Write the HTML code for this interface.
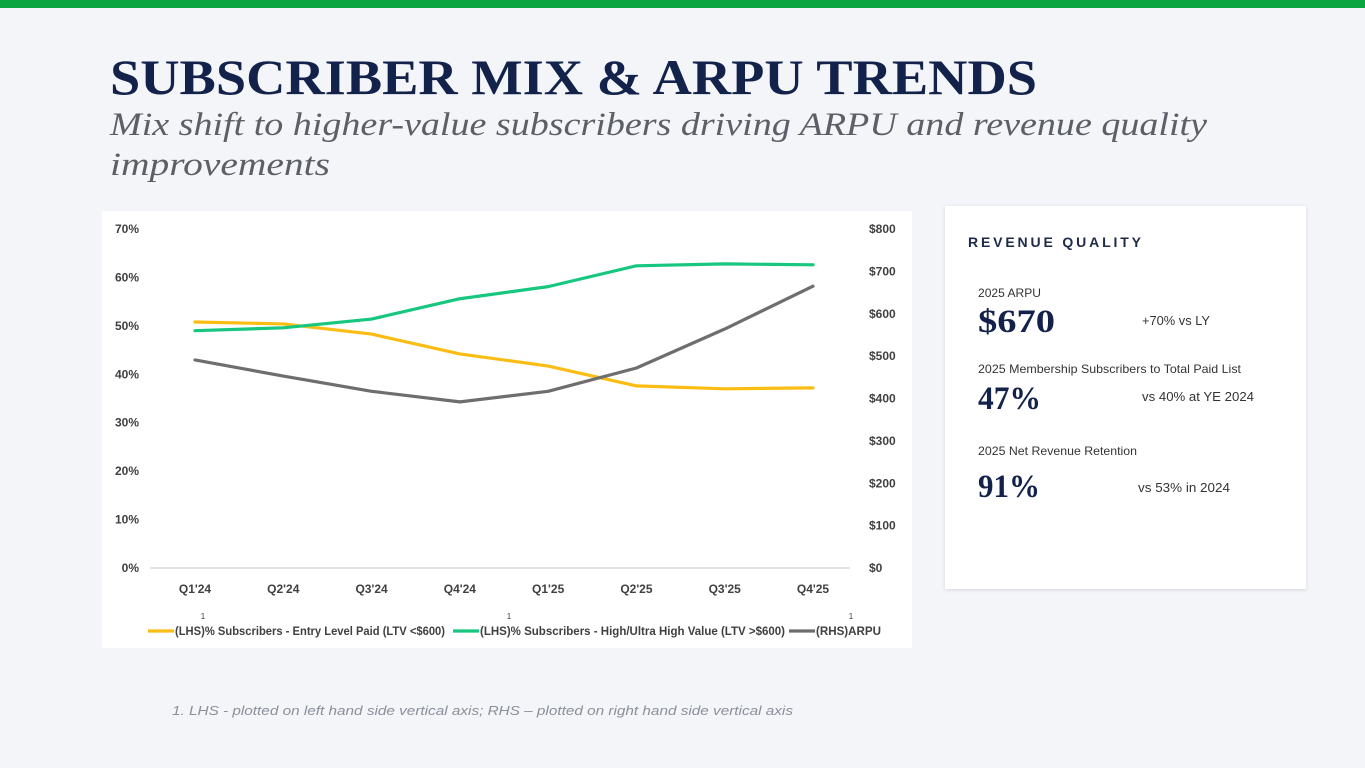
<!DOCTYPE html>
<html><head><meta charset="utf-8"><style>
html,body{margin:0;padding:0;background:#f3f5f9;}
svg{display:block;}
text{font-family:"Liberation Sans",sans-serif;}
.serif{font-family:"Liberation Serif",serif;}
</style></head><body>
<svg id="page" width="1365" height="768" viewBox="0 0 1365 768">
<rect x="0" y="0" width="1365" height="768" fill="#f3f5f9"/>
<rect x="0" y="0" width="1365" height="8" fill="#0aa540"/>
<text class="serif" x="110" y="94" font-size="50" font-weight="bold" fill="#13224a" textLength="927" lengthAdjust="spacingAndGlyphs">SUBSCRIBER MIX &amp; ARPU TRENDS</text>
<text class="serif" x="110" y="135" font-size="33" font-style="italic" fill="#5c5f66" textLength="1097" lengthAdjust="spacingAndGlyphs">Mix shift to higher-value subscribers driving ARPU and revenue quality</text>
<text class="serif" x="110" y="175" font-size="33" font-style="italic" fill="#5c5f66" textLength="220" lengthAdjust="spacingAndGlyphs">improvements</text>

<rect x="102" y="211" width="810" height="437" fill="#ffffff"/>
<g id="chart"></g>

<rect x="945" y="206" width="361" height="383" fill="#ffffff" style="filter:drop-shadow(0 1px 2px rgba(0,0,0,0.12))"/>
<text x="968" y="247" font-size="14" font-weight="bold" fill="#1d2a4a" textLength="173" lengthAdjust="spacing">REVENUE QUALITY</text>
<text x="978" y="297" font-size="12" fill="#333" textLength="63" lengthAdjust="spacingAndGlyphs">2025 ARPU</text>
<text class="serif" x="978" y="332" font-size="33" font-weight="bold" fill="#13224a" textLength="77" lengthAdjust="spacingAndGlyphs">$670</text>
<text x="1142" y="325" font-size="13" fill="#333" textLength="68" lengthAdjust="spacingAndGlyphs">+70% vs LY</text>
<text x="978" y="373" font-size="12" fill="#333" textLength="263" lengthAdjust="spacingAndGlyphs">2025 Membership Subscribers to Total Paid List</text>
<text class="serif" x="978" y="409" font-size="33" font-weight="bold" fill="#13224a" textLength="63" lengthAdjust="spacingAndGlyphs">47%</text>
<text x="1142" y="401" font-size="13" fill="#333" textLength="112" lengthAdjust="spacingAndGlyphs">vs 40% at YE 2024</text>
<text x="978" y="455" font-size="12" fill="#333" textLength="159" lengthAdjust="spacingAndGlyphs">2025 Net Revenue Retention</text>
<text class="serif" x="978" y="497" font-size="33" font-weight="bold" fill="#13224a" textLength="62" lengthAdjust="spacingAndGlyphs">91%</text>
<text x="1138" y="492" font-size="13" fill="#333" textLength="92" lengthAdjust="spacingAndGlyphs">vs 53% in 2024</text>

<text x="172" y="715" font-size="13" font-style="italic" fill="#8a8f98" textLength="621" lengthAdjust="spacingAndGlyphs">1. LHS - plotted on left hand side vertical axis; RHS – plotted on right hand side vertical axis</text>
</svg>
<script>
const categories = ["Q1'24","Q2'24","Q3'24","Q4'24","Q1'25","Q2'25","Q3'25","Q4'25"];
const entryLevel = [50.8,50.4,48.3,44.2,41.7,37.6,37.0,37.2];
const highValue = [49.0,49.6,51.4,55.6,58.1,62.4,62.8,62.6];
const arpu = [491,453,417,392,417,472,564,665];
const leftTicks = [0,10,20,30,40,50,60,70];
const rightTicks = [0,100,200,300,400,500,600,700,800];

const NS = "http://www.w3.org/2000/svg";
const g = document.getElementById('chart');
const y0 = 568, yTop = 229;
const xL = function(i){ return 195 + i * (813 - 195) / (categories.length - 1); };
const yL = function(v){ return y0 - (v / 70) * (y0 - yTop); };
const yR = function(v){ return y0 - (v / 800) * (y0 - yTop); };
function mk(tag, attrs, text){
  const e = document.createElementNS(NS, tag);
  for (const k in attrs) e.setAttribute(k, attrs[k]);
  if (text !== undefined) e.textContent = text;
  g.appendChild(e);
  return e;
}
let e;
e = mk('line', {x1:150, x2:850, y1:y0, y2:y0, stroke:'#d9d9d9', 'stroke-width':1.5});


leftTicks.forEach(function(t){
  e = mk('text', {x:139, y:yL(t)+4, 'font-size':12, 'font-weight':'bold', fill:'#404040', 'text-anchor':'end'}, t + '%');
  
  
});
rightTicks.forEach(function(t){
  e = mk('text', {x:869, y:yR(t)+4, 'font-size':12, 'font-weight':'bold', fill:'#404040'}, '$' + t);
  
  
});
categories.forEach(function(c, i){
  e = mk('text', {x:xL(i), y:593, 'font-size':12, 'font-weight':'bold', fill:'#404040', 'text-anchor':'middle'}, c);
  
  
});
function series(vals, yf, color, name){
  const d = vals.map(function(v, i){ return (i ? 'L' : 'M') + xL(i) + ' ' + yf(v); }).join(' ');
  const p = mk('path', {d:d, fill:'none', stroke:color, 'stroke-width':3.2, 'stroke-linejoin':'round', 'stroke-linecap':'round'});
  
  
}
series(entryLevel, yL, '#fbbd14', 'entry-level-line');
series(highValue, yL, '#17c77f', 'high-value-line');
series(arpu, yR, '#6e6e6e', 'arpu-line');

const legendItems = [
  {label:'(LHS)% Subscribers - Entry Level Paid (LTV <$600)', color:'#fbbd14', x:148, w:297, sup:203},
  {label:'(LHS)% Subscribers - High/Ultra High Value (LTV >$600)', color:'#17c77f', x:453, w:332, sup:509},
  {label:'(RHS)ARPU', color:'#6e6e6e', x:789, w:92, sup:851}
];
legendItems.forEach(function(it){
  e = mk('line', {x1:it.x, x2:it.x+26, y1:631, y2:631, stroke:it.color, 'stroke-width':3.2});
  
  
  e = mk('text', {x:it.x+27, y:635, 'font-size':12, 'font-weight':'bold', fill:'#404040', textLength:it.w - 27, lengthAdjust:'spacingAndGlyphs'}, it.label);
  
  
  e = mk('text', {x:it.sup, y:619, 'font-size':8, fill:'#404040', 'text-anchor':'middle'}, '1');
  
  
});
</script>
</body></html>
